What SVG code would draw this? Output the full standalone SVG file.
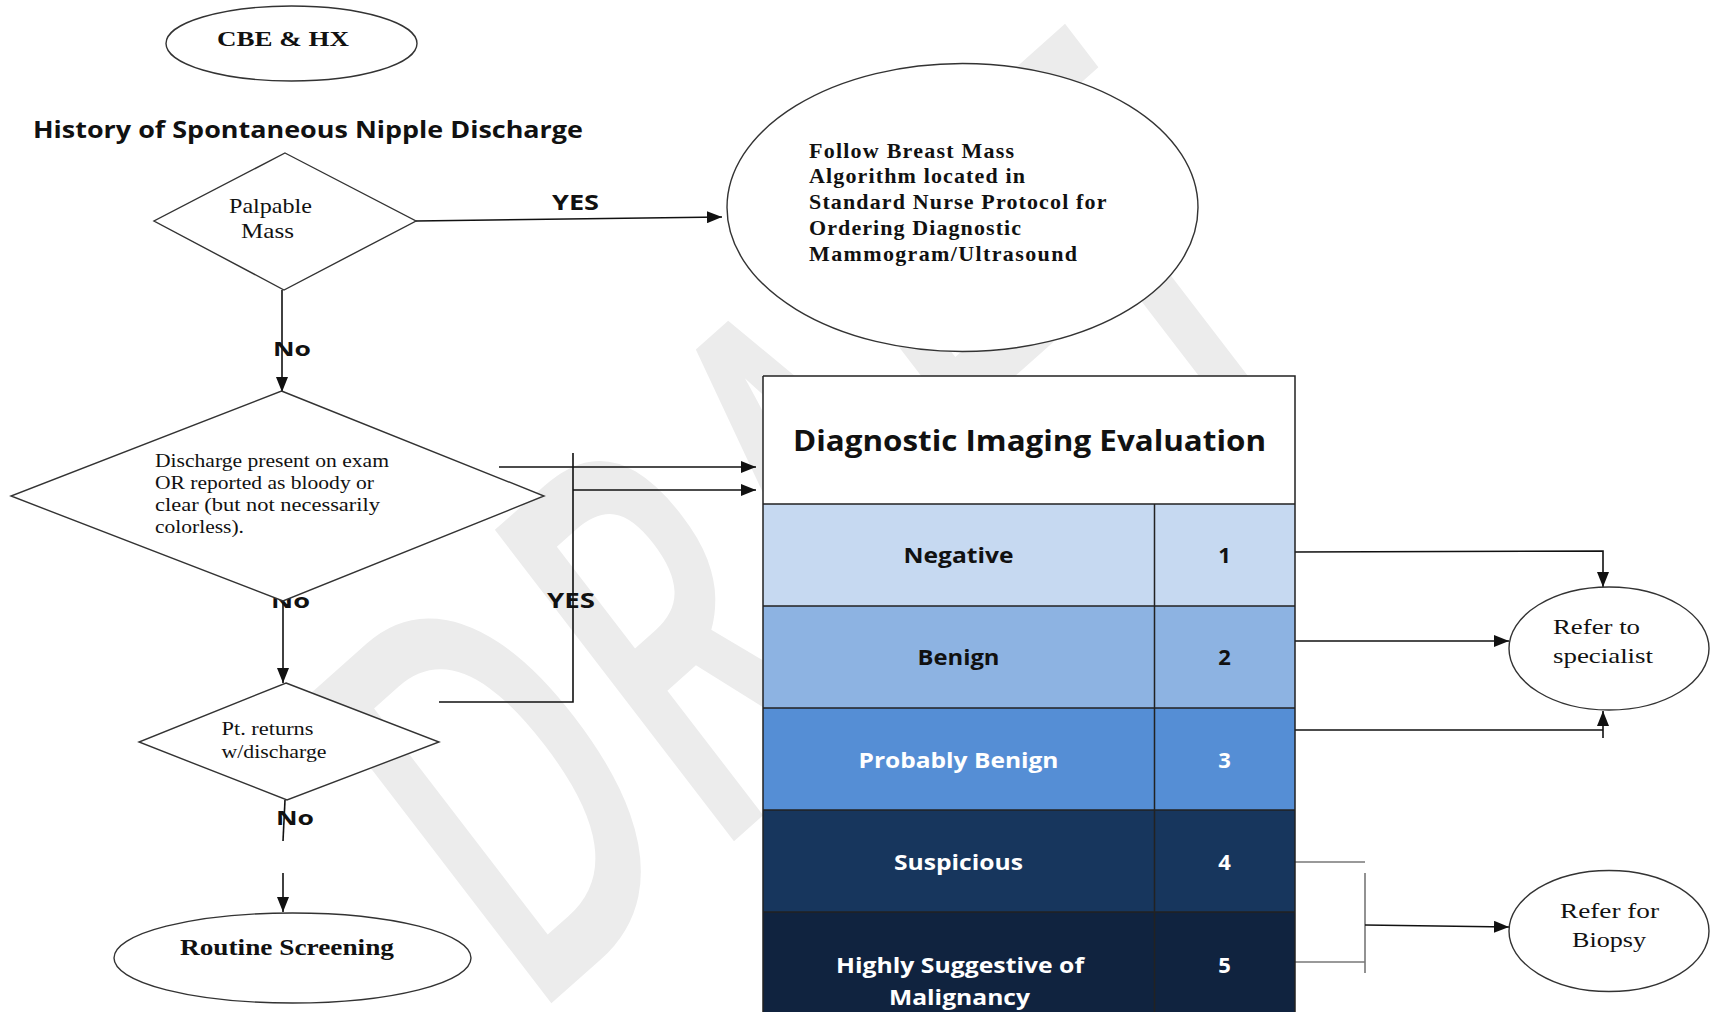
<svg xmlns="http://www.w3.org/2000/svg" width="1711" height="1012" viewBox="0 0 1711 1012">
<defs>
<style>
.shape{fill:#fff;stroke:#333;stroke-width:1.4}
.ln{fill:none;stroke:#111;stroke-width:1.6}
.lg{fill:none;stroke:#777;stroke-width:1.6}
.serif{font-family:"Liberation Serif","Times New Roman",serif;fill:#111}
.sb{font-family:"Liberation Serif","Times New Roman",serif;font-weight:bold;fill:#111}
.sans{font-family:"Open Sans","Liberation Sans",Arial,sans-serif;font-weight:bold;fill:#111}
.cell{font-family:"Open Sans","Liberation Sans",Arial,sans-serif;font-weight:bold;font-size:22px;text-anchor:middle}
.bk{fill:#111}
.wh{fill:#fff}
.grid{fill:none;stroke:#222;stroke-width:1.5}
</style>
<marker id="arr" viewBox="0 0 15 12" refX="15" refY="6" markerWidth="15" markerHeight="12" markerUnits="userSpaceOnUse" orient="auto">
<path d="M0,0 L15,6 L0,12 z" fill="#111"/>
</marker>
</defs>
<rect width="1711" height="1012" fill="#fff"/>
<text id="watermark" transform="matrix(0.453,-0.402,0.609,0.793,528,1024)" font-family="'Open Sans','Liberation Sans',sans-serif" font-weight="600" font-size="550" fill="#ececec">DRAFT</text>

<g id="connectors">
<path class="ln" d="M416,221 L722,217" marker-end="url(#arr)"/>
<path class="ln" d="M282,290 L282,392" marker-end="url(#arr)"/>
<path class="ln" d="M499,467 L756,467" marker-end="url(#arr)"/>
<path class="ln" d="M573,453 L573,702 L439,702"/>
<path class="ln" d="M573,490 L756,490" marker-end="url(#arr)"/>
<path class="ln" d="M283,601 L283,683" marker-end="url(#arr)"/>
<path class="ln" d="M285,800 L283,841"/>
<path class="ln" d="M283,873 L283,912" marker-end="url(#arr)"/>
<path class="ln" d="M1295,552 L1603,551 L1603,587" marker-end="url(#arr)"/>
<path class="ln" d="M1295,641 L1509,641" marker-end="url(#arr)"/>
<path class="ln" d="M1295,730 L1603,730"/>
<path class="ln" d="M1603,738 L1603,711" marker-end="url(#arr)"/>
<path class="lg" d="M1295,862 L1365,862"/>
<path class="lg" d="M1295,962 L1365,962"/>
<path class="lg" d="M1365,873 L1365,973"/>
<path class="ln" d="M1365,925 L1509,927" marker-end="url(#arr)"/>
</g>

<g id="edge-labels">
<text class="sans" x="552" y="210" font-size="22" textLength="47" lengthAdjust="spacingAndGlyphs">YES</text>
<text class="sans" x="273" y="356" font-size="20" textLength="38" lengthAdjust="spacingAndGlyphs">No</text>
<text class="sans" x="271" y="608" font-size="20" textLength="39" lengthAdjust="spacingAndGlyphs">No</text>
<text class="sans" x="547" y="608" font-size="22" textLength="48" lengthAdjust="spacingAndGlyphs">YES</text>
<text class="sans" x="276" y="825" font-size="20" textLength="38" lengthAdjust="spacingAndGlyphs">No</text>
</g>

<g id="node-cbe">
<ellipse class="shape" cx="291.5" cy="43.5" rx="125.5" ry="37.5"/>
<text class="sb" x="217" y="46" font-size="21" textLength="132" lengthAdjust="spacingAndGlyphs">CBE &amp; HX</text>
</g>

<g id="title">
<text class="sans" x="33" y="138" font-size="23" textLength="550" lengthAdjust="spacingAndGlyphs">History of Spontaneous Nipple Discharge</text>
</g>

<g id="node-palpable">
<polygon class="shape" points="285,153 416,221 284,290 154,221"/>
<text class="serif" x="229" y="213" font-size="21" textLength="83" lengthAdjust="spacingAndGlyphs">Palpable</text>
<text class="serif" x="241" y="238" font-size="21" textLength="53" lengthAdjust="spacingAndGlyphs">Mass</text>
</g>

<g id="node-follow">
<ellipse class="shape" cx="962.5" cy="207.5" rx="235.5" ry="144"/>
<text class="sb" font-size="22" lengthAdjust="spacingAndGlyphs">
<tspan x="809" y="158" textLength="205">Follow Breast Mass</tspan>
<tspan x="809" y="183" textLength="216">Algorithm located in</tspan>
<tspan x="809" y="209" textLength="297">Standard Nurse Protocol for</tspan>
<tspan x="809" y="235" textLength="212">Ordering Diagnostic</tspan>
<tspan x="809" y="261" textLength="268">Mammogram/Ultrasound</tspan>
</text>
</g>

<g id="node-discharge">
<polygon class="shape" points="281.5,391 544,496 283,601 11,496"/>
<text class="serif" x="155" y="467" font-size="18" textLength="234" lengthAdjust="spacingAndGlyphs">Discharge present on exam</text>
<text class="serif" x="155" y="489" font-size="18" textLength="219" lengthAdjust="spacingAndGlyphs">OR reported as bloody or</text>
<text class="serif" x="155" y="511" font-size="18" textLength="225" lengthAdjust="spacingAndGlyphs">clear  (but not necessarily</text>
<text class="serif" x="155" y="533" font-size="18" textLength="89" lengthAdjust="spacingAndGlyphs">colorless).</text>
</g>

<g id="node-pt">
<polygon class="shape" points="286,683 439,742 287,800 139,742"/>
<text class="serif" x="221.5" y="735" font-size="19" textLength="92" lengthAdjust="spacingAndGlyphs">Pt. returns</text>
<text class="serif" x="221.5" y="758" font-size="19" textLength="105" lengthAdjust="spacingAndGlyphs">w/discharge</text>
</g>

<g id="node-routine">
<ellipse class="shape" cx="292.5" cy="958" rx="178.5" ry="45"/>
<text class="sb" x="180" y="955" font-size="24" textLength="214" lengthAdjust="spacingAndGlyphs">Routine Screening</text>
</g>

<g id="node-table">
<rect x="763" y="376" width="532" height="128" fill="#fff"/>
<rect x="763" y="504" width="532" height="102" fill="#C6D9F1"/>
<rect x="763" y="606" width="532" height="102" fill="#8DB3E2"/>
<rect x="763" y="708" width="532" height="102" fill="#558ED5"/>
<rect x="763" y="810" width="532" height="102" fill="#17365D"/>
<rect x="763" y="912" width="532" height="102" fill="#10233F"/>
<path class="grid" d="M763,376 L1295,376 L1295,1014 M763,376 L763,1014 M763,504 L1295,504 M763,606 L1295,606 M763,708 L1295,708 M763,810 L1295,810 M763,912 L1295,912 M1154.5,504 L1154.5,1014"/>
<text class="sans" x="793" y="451" font-size="28" textLength="473" lengthAdjust="spacingAndGlyphs">Diagnostic Imaging Evaluation</text>
<text class="cell bk" x="958.5" y="563" textLength="110" lengthAdjust="spacingAndGlyphs">Negative</text>
<text class="cell bk" x="1224.5" y="563">1</text>
<text class="cell bk" x="958.5" y="665" textLength="82" lengthAdjust="spacingAndGlyphs">Benign</text>
<text class="cell bk" x="1224.5" y="665">2</text>
<text class="cell wh" x="958.5" y="768" textLength="200" lengthAdjust="spacingAndGlyphs">Probably Benign</text>
<text class="cell wh" x="1224.5" y="768">3</text>
<text class="cell wh" x="958.5" y="870" textLength="129" lengthAdjust="spacingAndGlyphs">Suspicious</text>
<text class="cell wh" x="1224.5" y="870">4</text>
<text class="cell wh" x="960" y="973" textLength="248" lengthAdjust="spacingAndGlyphs">Highly Suggestive of</text>
<text class="cell wh" x="959.5" y="1005" textLength="141" lengthAdjust="spacingAndGlyphs">Malignancy</text>
<text class="cell wh" x="1224.5" y="973">5</text>
</g>

<g id="node-refer-specialist">
<ellipse class="shape" cx="1609" cy="648.5" rx="100" ry="61.5"/>
<text class="serif" x="1553" y="634" font-size="22" textLength="87" lengthAdjust="spacingAndGlyphs">Refer to</text>
<text class="serif" x="1553" y="663" font-size="22" textLength="100" lengthAdjust="spacingAndGlyphs">specialist</text>
</g>

<g id="node-refer-biopsy">
<ellipse class="shape" cx="1609" cy="931" rx="100" ry="60.5"/>
<text class="serif" x="1609.5" y="918" font-size="22" text-anchor="middle" textLength="99" lengthAdjust="spacingAndGlyphs">Refer for</text>
<text class="serif" x="1609" y="947" font-size="22" text-anchor="middle" textLength="74" lengthAdjust="spacingAndGlyphs">Biopsy</text>
</g>
</svg>
